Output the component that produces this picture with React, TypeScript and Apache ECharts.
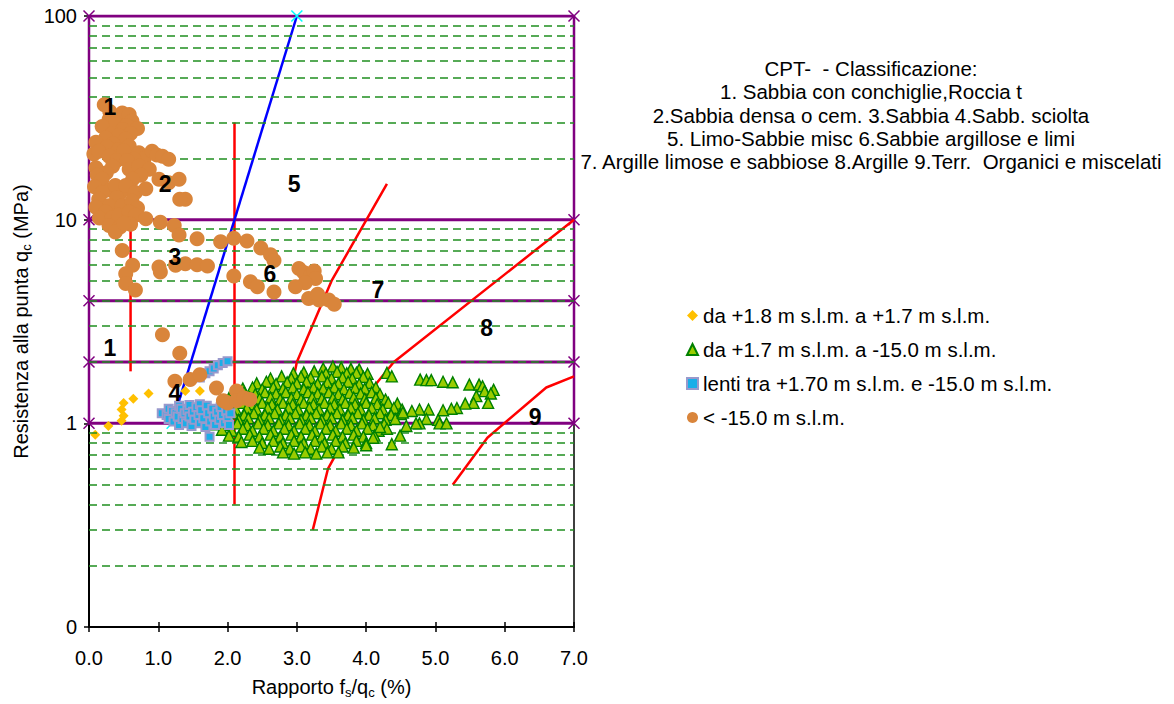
import React, { useEffect, useRef } from "react";
import * as echarts from "echarts";

const FONT = "'Liberation Sans', Arial, sans-serif";

// Axis ranges and tick labels
const xTicks = [0, 1, 2, 3, 4, 5, 6, 7];
const yMin = 0.1;
const yMax = 100;

// Dashed reference levels (qc, MPa)
const minorLevels = [
  0.2, 0.3, 0.4, 0.5, 0.6, 0.7, 0.8, 0.9,
  2, 3, 4, 5, 6, 7, 8, 9,
  20, 30, 40, 50, 60, 70, 80, 90,
];

// Solid zone limits (qc, MPa)
const purpleLevels = [1, 2, 4, 10, 100];
const purpleVerticals = [
  [[0, 1], [0, 100]],
  [[7, 1], [7, 100]],
];

// Zone boundaries [fs/qc %, qc MPa]
const redVertical1 = [[0.6, 1.8], [0.6, 30]];
const redVertical2 = [[2.1, 0.4], [2.1, 30]];
const red67Lower = [[3.23, 0.3], [3.45, 0.6], [3.56, 0.7]];
const red67Upper = [[2.95, 1.65], [3.0, 2.0], [3.5, 5.0], [4.3, 15]];
const red78 = [[3.85, 1.18], [4.4, 2.0], [7, 10]];
const red89 = [[5.25, 0.5], [5.75, 0.85], [6.6, 1.5], [7, 1.7]];
const blueBoundary = [[1.2, 1], [3, 100]];

// Zone numbers
const zoneLabels = [
  { name: "1", value: [0.3, 35.9] },
  { name: "1", value: [0.3, 2.34] },
  { name: "2", value: [1.1, 14.9] },
  { name: "3", value: [1.24, 6.57] },
  { name: "4", value: [1.24, 1.41] },
  { name: "5", value: [2.96, 14.9] },
  { name: "6", value: [2.61, 5.43] },
  { name: "7", value: [4.17, 4.49] },
  { name: "8", value: [5.74, 2.93] },
  { name: "9", value: [6.44, 1.08] },
];

const seriesNames = [
  "da +1.8 m s.l.m. a +1.7 m s.l.m.",
  "da +1.7 m s.l.m. a -15.0 m s.l.m.",
  "lenti tra +1.70 m s.l.m. e -15.0 m s.l.m.",
  "< -15.0 m s.l.m.",
];

// da +1.8 a +1.7 m s.l.m.
const topLayer = [
  [0.09, 0.88], [0.28, 0.97], [0.47, 1.03], [0.5, 1.09], [0.47, 1.17],
  [0.5, 1.26], [0.64, 1.32], [0.86, 1.4], [1.39, 1.44], [1.6, 1.44],
];

// da +1.7 a -15.0 m s.l.m.
const midLayer = [
  [3.38, 1.86], [3.52, 1.9], [3.64, 1.88], [3.78, 1.85], [3.9, 1.84],
  [2.95, 1.76], [3.1, 1.78], [3.25, 1.8], [3.42, 1.76], [3.58, 1.79], [3.72, 1.76], [3.86, 1.77], [4.02, 1.75],
  [2.62, 1.66], [2.78, 1.7], [2.92, 1.66], [3.06, 1.69], [3.2, 1.67], [3.36, 1.7], [3.5, 1.66], [3.66, 1.68], [3.8, 1.66], [3.96, 1.69],
  [2.42, 1.57], [2.56, 1.6], [2.7, 1.56], [2.86, 1.59], [3.0, 1.57], [3.14, 1.6], [3.3, 1.56], [3.44, 1.59], [3.6, 1.57], [3.74, 1.6], [3.9, 1.56], [4.05, 1.58],
  [2.22, 1.48], [2.36, 1.5], [2.5, 1.47], [2.66, 1.5], [2.8, 1.48], [2.94, 1.5], [3.1, 1.47], [3.24, 1.5], [3.38, 1.48], [3.54, 1.5], [3.68, 1.47], [3.84, 1.49], [3.98, 1.48], [4.14, 1.5],
  [2.08, 1.4], [2.24, 1.42], [2.4, 1.39], [2.54, 1.42], [2.7, 1.4], [2.84, 1.42], [3.0, 1.39], [3.16, 1.42], [3.3, 1.4], [3.46, 1.42], [3.6, 1.39], [3.76, 1.41], [3.92, 1.4], [4.08, 1.42], [4.2, 1.39],
  [2.02, 1.33], [2.16, 1.31], [2.32, 1.34], [2.46, 1.32], [2.62, 1.34], [2.76, 1.31], [2.92, 1.33], [3.06, 1.31], [3.22, 1.34], [3.36, 1.32], [3.52, 1.33], [3.66, 1.31], [3.82, 1.34], [3.98, 1.32], [4.14, 1.33], [4.28, 1.31],
  [2.04, 1.25], [2.2, 1.26], [2.34, 1.24], [2.5, 1.26], [2.64, 1.24], [2.8, 1.26], [2.94, 1.24], [3.1, 1.26], [3.24, 1.24], [3.4, 1.26], [3.54, 1.24], [3.7, 1.26], [3.84, 1.24], [4.0, 1.26], [4.16, 1.24], [4.32, 1.26], [4.45, 1.25],
  [1.98, 1.18], [2.12, 1.17], [2.28, 1.19], [2.42, 1.17], [2.58, 1.19], [2.72, 1.17], [2.88, 1.19], [3.02, 1.17], [3.18, 1.19], [3.32, 1.17], [3.48, 1.19], [3.62, 1.17], [3.78, 1.19], [3.92, 1.17], [4.08, 1.19], [4.24, 1.17], [4.4, 1.19], [4.52, 1.17],
  [1.94, 1.11], [2.08, 1.12], [2.24, 1.1], [2.38, 1.12], [2.54, 1.1], [2.68, 1.12], [2.84, 1.1], [2.98, 1.12], [3.14, 1.1], [3.28, 1.12], [3.44, 1.1], [3.58, 1.12], [3.74, 1.1], [3.88, 1.12], [4.04, 1.1], [4.2, 1.12], [4.36, 1.1], [4.5, 1.11],
  [1.86, 1.04], [2.0, 1.06], [2.16, 1.04], [2.3, 1.06], [2.46, 1.04], [2.6, 1.06], [2.76, 1.04], [2.9, 1.06], [3.06, 1.04], [3.2, 1.06], [3.36, 1.04], [3.5, 1.06], [3.66, 1.04], [3.8, 1.06], [3.96, 1.04], [4.12, 1.06], [4.28, 1.04], [4.42, 1.05],
  [1.84, 0.99], [1.98, 0.98], [2.14, 1.0], [2.28, 0.98], [2.44, 1.0], [2.58, 0.98], [2.74, 1.0], [2.88, 0.98], [3.04, 1.0], [3.18, 0.98], [3.34, 1.0], [3.48, 0.98], [3.64, 1.0], [3.78, 0.98], [3.94, 1.0], [4.1, 0.98], [4.26, 0.99],
  [1.92, 0.93], [2.06, 0.92], [2.22, 0.94], [2.36, 0.92], [2.52, 0.94], [2.66, 0.92], [2.82, 0.94], [2.96, 0.92], [3.12, 0.94], [3.26, 0.92], [3.42, 0.94], [3.56, 0.92], [3.72, 0.94], [3.86, 0.92], [4.02, 0.94], [4.18, 0.92], [4.3, 0.94],
  [2.02, 0.87], [2.16, 0.86], [2.32, 0.88], [2.46, 0.86], [2.62, 0.88], [2.76, 0.86], [2.92, 0.88], [3.06, 0.86], [3.22, 0.88], [3.36, 0.86], [3.52, 0.88], [3.66, 0.86], [3.82, 0.88], [3.96, 0.86], [4.12, 0.87],
  [2.2, 0.81], [2.36, 0.82], [2.5, 0.8], [2.66, 0.82], [2.8, 0.8], [2.96, 0.82], [3.1, 0.8], [3.26, 0.82], [3.4, 0.8], [3.56, 0.82], [3.7, 0.8], [3.86, 0.82], [4.0, 0.8],
  [2.46, 0.76], [2.6, 0.75], [2.76, 0.77], [2.9, 0.75], [3.06, 0.77], [3.2, 0.75], [3.36, 0.77], [3.5, 0.75], [3.66, 0.77], [3.82, 0.76],
  [2.8, 0.72], [2.96, 0.71], [3.12, 0.72], [3.28, 0.71], [3.44, 0.72], [3.6, 0.72],
  [4.3, 1.77], [4.37, 1.7], [4.78, 1.64], [4.87, 1.63], [4.94, 1.63], [5.11, 1.6], [5.25, 1.59], [5.49, 1.55],
  [5.63, 1.55], [5.68, 1.52], [5.71, 1.44], [5.84, 1.46], [5.8, 1.4], [5.59, 1.36], [5.76, 1.26], [5.55, 1.26],
  [5.43, 1.25], [5.31, 1.19], [5.23, 1.18], [5.11, 1.16], [4.9, 1.17], [4.77, 1.17], [4.66, 1.15], [4.53, 1.13],
  [4.87, 1.05], [5.04, 1.04], [5.06, 1.0], [5.16, 1.0], [4.77, 1.0], [4.72, 1.0], [4.58, 0.97], [4.49, 0.87],
  [4.37, 0.79], [4.2, 0.96], [4.1, 0.85], [4.0, 0.78],
];

// lenti tra +1.70 e -15.0 m s.l.m.
const lensLayer = [
  [1.6, 1.68], [1.68, 1.76], [1.74, 1.8], [1.8, 1.86], [1.86, 1.93], [1.93, 1.98], [2.0, 2.02],
  [1.05, 1.12], [1.12, 1.1], [1.15, 1.05], [1.15, 1.18], [1.2, 1.15], [1.22, 1.02], [1.25, 1.12],
  [1.28, 1.08], [1.3, 0.98], [1.3, 1.22], [1.33, 1.18], [1.35, 1.05], [1.38, 1.12], [1.4, 1.0],
  [1.42, 1.16], [1.45, 1.08], [1.45, 1.23], [1.48, 0.97], [1.5, 1.14], [1.52, 1.04], [1.55, 1.2],
  [1.58, 1.1], [1.6, 1.0], [1.6, 1.24], [1.62, 1.16], [1.65, 1.06], [1.68, 0.96], [1.7, 1.22],
  [1.72, 1.12], [1.75, 1.02], [1.78, 1.18], [1.8, 1.08], [1.82, 0.98], [1.85, 1.14], [1.88, 1.04],
  [1.9, 1.2], [1.92, 1.1], [1.95, 1.0], [1.98, 1.15], [2.0, 1.06], [2.02, 0.98], [2.04, 1.12],
  [1.74, 0.86],
];

// < -15.0 m s.l.m.
const deepLayer = [
  [0.22, 36.7], [0.48, 33.4], [0.58, 32.8], [0.3, 34.0], [0.29, 31.0], [0.62, 30.5], [0.38, 29.8],
  [0.54, 29.0], [0.19, 28.7], [0.7, 28.0], [0.48, 27.7], [0.6, 26.5], [0.34, 26.5], [0.43, 25.8],
  [0.24, 25.2], [0.1, 24.0], [0.53, 24.8], [0.35, 23.5], [0.26, 22.8], [0.43, 22.1], [0.58, 23.0],
  [0.5, 21.8], [0.07, 21.0], [0.14, 21.7], [0.29, 20.5], [0.72, 21.3], [0.8, 20.0], [0.91, 21.7],
  [0.98, 20.8], [1.06, 20.5], [1.15, 19.8], [0.65, 19.8], [0.4, 19.5], [0.55, 19.5], [0.34, 18.3],
  [0.1, 18.0], [0.58, 17.7], [0.72, 18.3], [0.87, 17.7], [0.25, 17.0], [0.12, 16.5], [0.75, 16.5],
  [1.01, 15.8], [1.15, 15.2], [1.3, 15.8], [0.19, 15.8], [0.63, 15.8], [0.08, 14.5], [0.3, 14.0],
  [0.6, 14.0], [0.45, 13.5], [0.19, 13.6], [0.38, 14.7], [0.53, 14.7], [0.67, 13.6], [0.82, 14.2],
  [0.4, 12.8], [0.14, 12.6], [0.29, 11.7], [0.48, 11.7], [0.62, 12.3], [0.1, 11.5], [0.7, 11.4],
  [1.39, 12.6], [1.31, 12.6], [0.24, 10.9], [0.15, 10.2], [0.33, 10.2], [0.43, 10.5], [0.58, 10.9],
  [0.67, 10.5], [0.82, 10.1], [0.29, 9.35], [0.45, 9.2], [0.6, 9.5], [0.38, 8.7], [0.5, 9.6],
  [1.03, 9.7], [1.23, 9.35], [1.3, 8.4], [1.56, 8.05], [0.48, 7.06], [0.63, 5.97], [0.53, 5.43],
  [0.53, 4.86], [0.67, 4.51], [1.01, 5.86], [1.03, 5.54], [1.25, 5.97], [1.39, 6.08], [1.56, 6.01],
  [1.71, 5.93], [1.9, 7.8], [2.09, 8.1], [2.28, 7.85], [2.48, 7.25], [2.62, 6.73], [2.67, 6.31],
  [2.09, 5.29], [2.33, 4.95], [2.43, 4.68], [2.67, 4.42], [3.03, 5.75], [3.1, 5.5], [3.2, 5.33],
  [3.25, 5.6], [3.27, 5.14], [3.12, 4.9], [2.98, 4.68], [3.17, 4.1], [3.32, 4.03], [3.46, 4.03],
  [3.54, 3.84], [3.3, 4.3], [1.06, 2.72], [1.31, 2.21], [1.24, 1.61], [1.46, 1.64], [1.6, 1.73],
  [1.84, 1.49], [1.94, 1.29], [2.0, 1.26], [2.13, 1.44], [2.13, 1.29], [2.24, 1.33], [2.32, 1.31],
];

const CROSS = "path://M0,0L10,10M10,0L0,10";

function boundary(data: number[][], color: string, width: number) {
  return {
    type: "line",
    data,
    symbol: "none",
    silent: true,
    lineStyle: { color, width },
    z: 3,
  };
}

export default function App() {
  const ref = useRef<HTMLDivElement>(null);

  useEffect(() => {
    if (!ref.current) return;
    const chart = echarts.init(ref.current, undefined, { renderer: "svg" });

    const subRich = {
      t: { fontSize: 20, lineHeight: 24, fontFamily: FONT, color: "#000" },
      s: { fontSize: 13, lineHeight: 14, verticalAlign: "bottom", fontFamily: FONT, color: "#000" },
    };

    const option: any = {
      animation: false,
      backgroundColor: "#fff",
      textStyle: { fontFamily: FONT },
      grid: {
        left: 89,
        top: 16,
        width: 485,
        height: 617,
        show: true,
        borderColor: "#000",
        borderWidth: 1.5,
        backgroundColor: "transparent",
      },
      graphic: [
        {
          type: "text",
          x: 871,
          y: 57,
          style: {
            text: [
              "CPT-  - Classificazione:",
              "1. Sabbia con conchiglie,Roccia t",
              "2.Sabbia densa o cem. 3.Sabbia 4.Sabb. sciolta",
              "5. Limo-Sabbie misc 6.Sabbie argillose e limi",
              "7. Argille limose e sabbiose 8.Argille 9.Terr.  Organici e miscelati",
            ].join("\n"),
            textAlign: "center",
            textVerticalAlign: "top",
            fontSize: 20.5,
            lineHeight: 23.3,
            fontFamily: FONT,
            fill: "#000",
          },
        },
      ],
      legend: {
        data: [
          { name: seriesNames[0], icon: "diamond" },
          { name: seriesNames[1], icon: "triangle" },
          { name: seriesNames[2], icon: "rect" },
          { name: seriesNames[3], icon: "circle" },
        ],
        orient: "vertical",
        left: 681,
        top: 300,
        itemWidth: 11,
        itemHeight: 11,
        itemGap: 13,
        selectedMode: false,
        textStyle: { fontSize: 20.5, fontFamily: FONT, color: "#000" },
      },
      xAxis: [
        {
          type: "value",
          min: xTicks[0],
          max: xTicks[xTicks.length - 1],
          interval: 1,
          name: "{t|Rapporto f}{s|s}{t|/q}{s|c}{t| (%)}",
          nameLocation: "middle",
          nameGap: 48,
          nameTextStyle: { rich: subRich },
          axisLine: { show: true, onZero: false, lineStyle: { color: "#000", width: 2 } },
          axisTick: { show: true, length: 5, lineStyle: { color: "#000", width: 1.5 } },
          axisLabel: {
            margin: 21,
            fontSize: 20,
            color: "#000",
            fontFamily: FONT,
            formatter: (v: number) => v.toFixed(1),
          },
          splitLine: { show: false },
        },
        {
          type: "value",
          position: "bottom",
          min: xTicks[0],
          max: xTicks[xTicks.length - 1],
          interval: 1,
          axisLine: { show: false },
          axisTick: { show: true, inside: true, length: 5, lineStyle: { color: "#000", width: 1.5 } },
          axisLabel: { show: false },
          splitLine: { show: false },
        },
      ],
      yAxis: {
        type: "log",
        logBase: 10,
        min: yMin,
        max: yMax,
        name: "{t|Resistenza alla punta q}{s|c}{t| (MPa)}",
        nameLocation: "middle",
        nameGap: 56,
        nameTextStyle: { rich: subRich },
        axisLine: { show: true, onZero: false, lineStyle: { color: "#000", width: 2 } },
        axisTick: { show: true, length: 5, lineStyle: { color: "#000", width: 1.5 } },
        axisLabel: {
          margin: 12,
          fontSize: 20,
          color: "#000",
          fontFamily: FONT,
          formatter: (v: number) => (v < 1 ? "0" : String(Math.round(v))),
        },
        splitLine: { show: false },
        minorTick: { show: false },
      },
      series: [
        {
          type: "line",
          data: [[0, yMin]],
          symbol: "none",
          silent: true,
          lineStyle: { width: 0 },
          markLine: {
            silent: true,
            symbol: "none",
            label: { show: false },
            lineStyle: { color: "#1f8f1f", width: 1.6, type: [8, 5] },
            data: minorLevels.map((v) => ({ yAxis: v })),
          },
          z: 1,
        },
        ...purpleLevels.map((v) => ({
          type: "line",
          data: [[0, v], [7, v]],
          symbol: CROSS,
          symbolSize: 11,
          silent: true,
          lineStyle: { color: "#800080", width: 3 },
          itemStyle: { color: "transparent", borderColor: "#800080", borderWidth: 1.5 },
          z: 2,
        })),
        ...purpleVerticals.map((d) => ({
          type: "line",
          data: d,
          symbol: "none",
          silent: true,
          lineStyle: { color: "#800080", width: 2.5 },
          z: 2,
        })),
        boundary(redVertical1, "#ff0000", 2.5),
        boundary(redVertical2, "#ff0000", 2.5),
        boundary(red67Lower, "#ff0000", 2.5),
        boundary(red67Upper, "#ff0000", 2.5),
        boundary(red78, "#ff0000", 2.5),
        boundary(red89, "#ff0000", 2.5),
        {
          type: "line",
          data: blueBoundary,
          symbol: CROSS,
          symbolSize: 11,
          silent: true,
          lineStyle: { color: "#0000ff", width: 2.5 },
          itemStyle: { color: "transparent", borderColor: "#00ffff", borderWidth: 1.5 },
          z: 3,
        },
        {
          name: seriesNames[0],
          type: "scatter",
          data: topLayer,
          symbol: "diamond",
          symbolSize: 10,
          itemStyle: { color: "#ffc000", opacity: 1 },
          z: 4,
        },
        {
          name: seriesNames[1],
          type: "scatter",
          data: midLayer,
          symbol: "triangle",
          symbolSize: 11,
          itemStyle: { color: "#99cc00", borderColor: "#008000", borderWidth: 1.4, opacity: 1 },
          z: 5,
        },
        {
          name: seriesNames[2],
          type: "scatter",
          data: lensLayer,
          symbol: "rect",
          symbolSize: 8,
          itemStyle: { color: "#1aaee8", borderColor: "#9999cc", borderWidth: 2, opacity: 1 },
          z: 6,
        },
        {
          name: seriesNames[3],
          type: "scatter",
          data: deepLayer,
          symbol: "circle",
          symbolSize: 15,
          itemStyle: { color: "#d9853b", opacity: 1 },
          z: 7,
        },
        {
          type: "scatter",
          data: zoneLabels,
          symbolSize: 1,
          silent: true,
          itemStyle: { color: "rgba(0,0,0,0)", opacity: 1 },
          label: {
            show: true,
            position: "inside",
            formatter: (p: any) => p.name,
            fontSize: 23,
            fontWeight: "bold",
            fontFamily: FONT,
            color: "#000",
            opacity: 1,
            textBorderWidth: 0,
          },
          z: 8,
        },
      ],
    };

    chart.setOption(option);
    return () => chart.dispose();
  }, []);

  return (
    <div
      ref={ref}
      style={{ position: "fixed", left: 0, top: 0, width: 1174, height: 704, background: "#fff" }}
    />
  );
}
